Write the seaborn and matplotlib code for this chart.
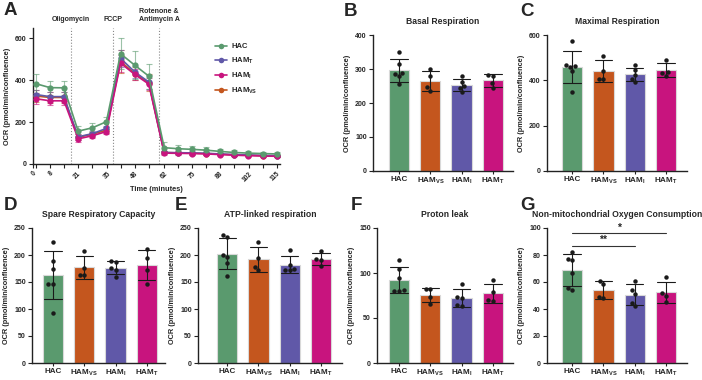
"""Seahorse mito stress test: OCR trace plus derived parameters per group"""

import matplotlib
matplotlib.use("Agg")
import matplotlib.pyplot as plt
import matplotlib.transforms as mtransforms
from matplotlib.lines import Line2D
import numpy as np
import pandas as pd
import seaborn as sns

# ---- panel A: OCR over time ----
times = [1.3, 8, 14.6, 21.3, 28, 34.6, 41.3, 48, 54.6, 61.9, 68.5, 75.1, 81.8, 88.4, 95, 101.6, 108.3, 114.9]
time_ticks = [0, 8, 21, 35, 48, 62, 75, 88, 102, 115]
injections = [18, 37.5, 59.4]
injection_names = ["Oligomycin", "FCCP", "Rotenone &\nAntimycin A"]

hac_ocr = [384, 365, 364, 157, 173, 202, 527, 472, 420, 78, 73, 70, 66, 60, 55, 52, 50, 48]
hac_sd = [45, 33, 35, 27, 22, 25, 73, 68, 60, 25, 18, 15, 13, 11, 10, 9, 9, 9]
hamt_ocr = [332, 322, 322, 130, 145, 170, 505, 440, 392, 55, 54, 53, 51, 48, 45, 43, 41, 40]
hamt_sd = [22, 20, 20, 15, 12, 12, 40, 30, 35, 8, 7, 7, 6, 6, 5, 5, 5, 5]
hami_ocr = [312, 302, 302, 120, 135, 155, 482, 428, 382, 52, 51, 50, 48, 45, 42, 40, 38, 37]
hami_sd = [25, 22, 22, 15, 12, 12, 40, 25, 30, 7, 7, 6, 6, 6, 5, 5, 5, 5]
hamvs_ocr = [325, 318, 318, 128, 142, 162, 490, 432, 388, 55, 53, 52, 50, 47, 44, 42, 40, 38]
hamvs_sd = [30, 25, 25, 15, 12, 15, 55, 30, 40, 8, 7, 7, 6, 6, 5, 5, 5, 5]

trace_groups = ["HAC", "HAM_T", "HAM_I", "HAM_VS"]
trace_labels = ["HAC", r"HAM$_{T}$", r"HAM$_{I}$", r"HAM$_{VS}$"]
trace_colors = ["#5a9a6e", "#6058a8", "#c8147e", "#c4561e"]

# ---- panels B-G: replicate values ----
bar_groups = ["HAC", "HAM_VS", "HAM_I", "HAM_T"]
bar_labels = ["HAC", r"HAM$_{VS}$", r"HAM$_{I}$", r"HAM$_{T}$"]
bar_colors = ["#5a9a6e", "#c4561e", "#6058a8", "#c8147e"]

basal = {"HAC": [349, 316, 289, 285, 280, 255], "HAM_VS": [301, 278, 246, 236],
         "HAM_I": [279, 262, 250, 245, 233], "HAM_T": [282, 280, 258, 245]}
maximal = {"HAC": [573, 468, 462, 458, 440, 348], "HAM_VS": [508, 440, 408, 406],
           "HAM_I": [466, 445, 425, 408, 392], "HAM_T": [490, 438, 432, 420]}
spare = {"HAC": [224, 188, 175, 147, 147, 93], "HAM_VS": [208, 176, 163, 163],
         "HAM_I": [188, 187, 176, 172, 160], "HAM_T": [212, 194, 173, 147]}
atp = {"HAC": [237, 233, 200, 196, 185, 162], "HAM_VS": [224, 194, 178, 172],
       "HAM_I": [209, 182, 175, 173, 173], "HAM_T": [207, 193, 191, 179]}
leak = {"HAC": [115, 104, 94, 81, 80, 80], "HAM_VS": [82.5, 82, 73, 65.5],
        "HAM_I": [88, 73, 72, 64, 63], "HAM_T": [92, 79, 70, 69]}
nonmito = {"HAC": [82.5, 77, 76, 66.7, 55.3, 54.3], "HAM_VS": [60.5, 58.5, 49, 48],
           "HAM_I": [61, 54, 51.4, 44.5, 42], "HAM_T": [63.5, 51.5, 50, 45]}

W, H = 702, 380
BOLD = "bold"


def px_axes(fig, left, top, right, bottom):
    return fig.add_axes([left / W, 1 - bottom / H, (right - left) / W, (bottom - top) / H])


def style_axis(ax):
    sns.despine(ax=ax)
    for s in ["left", "bottom"]:
        ax.spines[s].set_linewidth(1.0)
        ax.spines[s].set_color("#222222")
    ax.tick_params(axis="both", length=3, width=0.8, color="#222222", pad=1.5)
    ax.tick_params(axis="y", labelsize=5)
    for lab in ax.get_yticklabels():
        lab.set_fontweight(BOLD)


def bar_panel(ax, data, title, ymax, step, xlim):
    df = pd.DataFrame([(g, v) for g in bar_groups for v in data[g]], columns=["group", "ocr"])
    sns.barplot(data=df, x="group", y="ocr", hue="group", order=bar_groups, hue_order=bar_groups,
                palette=bar_colors, saturation=1, errorbar="sd", capsize=0.55, width=0.65,
                err_kws={"color": "k", "linewidth": 0.8}, edgecolor="#d9d9d9", linewidth=0.8,
                legend=False, ax=ax)
    sns.swarmplot(data=df, x="group", y="ocr", order=bar_groups, color="k", size=3.2, ax=ax)
    ax.set_xlim(*xlim)
    ax.set_ylim(0, ymax)
    ax.set_yticks(np.arange(0, ymax + 1, step))
    ax.set_xticks(range(len(bar_groups)))
    ax.set_xticklabels(bar_labels, fontsize=5.8, fontweight=BOLD)
    ax.set_xlabel("")
    ax.set_ylabel("OCR (pmol/min/confluence)", fontsize=5.3, fontweight=BOLD, labelpad=3)
    ax.set_title(title, fontsize=6.2, fontweight=BOLD, pad=8)
    style_axis(ax)
    ax.tick_params(axis="x", length=2)


sns.set_theme(style="ticks")
plt.rcParams["font.family"] = ["Liberation Sans", "DejaVu Sans"]
plt.rcParams["mathtext.fontset"] = "custom"
plt.rcParams["mathtext.rm"] = "Liberation Sans:bold"
plt.rcParams["mathtext.it"] = "Liberation Sans:bold"
plt.rcParams["mathtext.bf"] = "Liberation Sans:bold"
plt.rcParams["mathtext.default"] = "bf"

fig = plt.figure(figsize=(W / 100, H / 100), dpi=100)
fig.patch.set_facecolor("white")

# ---- A ----
axA = px_axes(fig, 33, 28, 280, 164)
trace_vals = {"HAC": (hac_ocr, hac_sd), "HAM_T": (hamt_ocr, hamt_sd),
              "HAM_I": (hami_ocr, hami_sd), "HAM_VS": (hamvs_ocr, hamvs_sd)}
trace = pd.concat([pd.DataFrame({"time": times, "ocr": trace_vals[g][0], "group": g})
                   for g in trace_groups], ignore_index=True)
draw_order = ["HAM_VS", "HAM_T", "HAM_I", "HAC"]
pal = dict(zip(trace_groups, trace_colors))
for z, g in enumerate(draw_order):
    vals, sd = trace_vals[g]
    axA.errorbar(times, vals, yerr=sd, fmt="none", ecolor=pal[g], alpha=0.6,
                 elinewidth=0.8, capsize=2.2, capthick=0.8, zorder=2 + z)
    sns.lineplot(data=trace[trace.group == g], x="time", y="ocr", color=pal[g], marker="o",
                 markersize=4.5, markeredgewidth=0, linewidth=1.2, ax=axA, zorder=6 + z)
for t, name in zip(injections, injection_names):
    axA.axvline(t, color="#888888", linestyle=":", linewidth=0.8, zorder=1)
    axA.text(t, 1.04, name, transform=mtransforms.blended_transform_factory(axA.transData, axA.transAxes),
             ha="center", va="bottom", fontsize=5, fontweight=BOLD, linespacing=1.1)
axA.set_xlim(0, 116.5)
axA.set_ylim(0, 650)
axA.set_yticks([0, 200, 400, 600])
axA.set_xticks(time_ticks)
axA.set_xticks([t for t in times if round(t) not in time_ticks], minor=True)
axA.set_xticklabels([str(t) for t in time_ticks], rotation=45, ha="right", rotation_mode="anchor",
                    fontsize=4.8, fontweight=BOLD)
axA.set_xlabel("Time (minutes)", fontsize=5.3, fontweight=BOLD, labelpad=2)
axA.set_ylabel("OCR (pmol/min/confluence)", fontsize=5.3, fontweight=BOLD, labelpad=3)
style_axis(axA)
axA.tick_params(axis="x", which="minor", length=3, width=0.8, color="#222222")
handles = [Line2D([0], [0], color=c, marker="o", markersize=4, markeredgewidth=0, linewidth=1.2)
           for c in trace_colors]
axA.legend(handles, trace_labels, loc="upper left", bbox_to_anchor=(0.71, 0.94), frameon=False,
           handlelength=1.6, handletextpad=0.5, labelspacing=0.65,
           prop={"size": 5.5, "weight": "bold"})

# ---- B-G ----
panels = [
    (373, 35, 513, 171, basal, "Basal Respiration", 400, 100, (-0.83, 3.64)),
    (547, 35, 687, 171, maximal, "Maximal Respiration", 600, 200, (-0.80, 3.67)),
    (32, 228, 165, 363, spare, "Spare Respiratory Capacity", 250, 50, (-0.67, 3.58)),
    (198, 228, 342, 363, atp, "ATP-linked respiration", 250, 50, (-0.93, 3.67)),
    (377, 228, 513, 363, leak, "Proton leak", 150, 50, (-0.70, 3.64)),
    (547, 228, 687, 363, nonmito, "Non-mitochondrial Oxygen Consumption", 100, 20, (-0.80, 3.67)),
]
axes = []
for l, t, r, b, data, title, ymax, step, xlim in panels:
    ax = px_axes(fig, l, t, r, b)
    bar_panel(ax, data, title, ymax, step, xlim)
    axes.append(ax)

# significance brackets in G
axG = axes[-1]
for x2, y, star in [(3, 96.3, "*"), (2, 87, "**")]:
    axG.plot([0, x2], [y, y], color="#333333", linewidth=0.8, clip_on=False)
    axG.text(x2 / 2, y + 0.3, star, ha="center", va="bottom", fontsize=7.5, fontweight=BOLD)

# panel letters
for letter, x, y in [("A", 4, 2), ("B", 344, 3), ("C", 520, 3), ("D", 4, 197),
                     ("E", 175, 197), ("F", 351, 197), ("G", 520, 197)]:
    fig.text(x / W, 1 - y / H, letter, fontsize=13.5, fontweight=BOLD, va="top", ha="left")

fig.savefig("out.png", dpi=100, facecolor="white")
